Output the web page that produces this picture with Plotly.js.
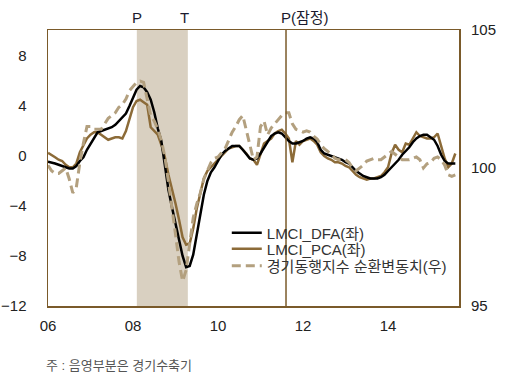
<!DOCTYPE html>
<html>
<head>
<meta charset="utf-8">
<script src="https://cdn.plot.ly/plotly-3.0.1.min.js"></script>
<style>
html,body{margin:0;padding:0;background:#fff;}
#chart{width:516px;height:381px;}
</style>
</head>
<body>
<div id="chart"></div>
<script>
// Monthly series, 2006-01 .. 2015-08
var startYear = 2006;
var lmciDFA = [
 -0.45,-0.5,-0.6,-0.7,-0.8,-0.9,-1.0,-1.0,-0.8,-0.4,
 -0.1,0.5,1.0,1.5,1.9,2.0,2.1,2.2,2.3,2.5,
 2.8,3.1,3.4,4.0,4.7,5.3,5.6,5.5,5.1,4.5,
 3.5,2.2,1.2,-0.8,-2.7,-4.1,-5.5,-6.8,-8.0,-8.9,
 -8.8,-7.9,-6.3,-4.9,-3.1,-2.0,-1.3,-0.9,-0.4,0.1,
 0.4,0.6,0.8,0.8,0.8,0.5,0.1,-0.2,-0.3,-0.2,
 0.2,0.7,1.2,1.6,1.8,1.9,1.8,1.5,1.2,1.0,
 1.0,1.1,1.2,1.4,1.5,1.4,1.1,0.5,0.2,0.1,
 0.0,-0.1,-0.2,-0.3,-0.5,-0.6,-0.9,-1.2,-1.4,-1.6,
 -1.7,-1.8,-1.8,-1.8,-1.7,-1.5,-1.2,-0.9,-0.6,-0.3,
 0.1,0.4,0.7,1.1,1.4,1.6,1.7,1.7,1.5,1.3,
 0.8,0.1,-0.4,-0.6,-0.6,-0.6
];
var lmciPCA = [
 0.25,0.1,-0.1,-0.3,-0.4,-0.7,-0.9,-0.9,-0.6,0.3,
 0.9,1.4,1.7,1.9,1.9,1.7,1.5,1.3,1.4,1.5,
 1.5,1.4,2.0,3.0,3.9,4.4,4.5,4.3,4.1,2.3,
 2.0,1.7,0.9,-0.1,-1.5,-2.6,-3.8,-5.1,-6.5,-7.1,
 -7.0,-5.8,-4.2,-3.0,-1.8,-1.2,-0.9,-0.6,-0.3,0.0,
 0.3,0.6,0.7,0.8,0.8,0.5,0.2,-0.2,-0.3,-0.7,
 0.2,1.0,1.2,1.4,1.8,2.0,2.1,1.8,1.4,-0.5,
 1.2,0.9,1.2,1.3,1.4,1.2,0.9,0.3,0.0,-0.2,
 -0.3,-0.5,-0.5,-0.6,-0.8,-0.9,-1.2,-1.5,-1.7,-1.8,
 -1.9,-1.8,-1.8,-1.7,-1.6,-1.3,-0.9,0.2,0.9,0.5,
 0.3,1.0,0.9,1.4,1.9,1.6,1.5,1.4,1.4,1.5,
 1.8,0.8,-0.2,-0.9,-0.6,0.2
];
var cycleIdx = [
 100.1,99.9,99.8,99.8,99.9,100.0,99.6,99.1,99.3,100.2,
 100.9,101.5,101.5,101.4,101.4,101.4,101.6,101.8,101.9,102.0,
 102.2,102.3,102.5,102.8,102.95,103.1,103.15,103.1,102.5,101.9,
 101.7,101.4,101.0,100.4,99.5,98.6,97.6,96.6,95.9,96.3,
 97.3,98.2,98.7,99.1,99.6,99.9,100.2,100.35,100.4,100.55,
 100.7,101.0,101.3,101.5,101.75,101.9,101.4,100.8,100.3,100.4,
 101.5,101.7,101.2,101.45,101.6,101.75,101.9,102.0,102.0,101.6,
 101.4,101.35,101.3,101.35,101.3,101.15,101.05,100.85,100.7,100.6,
 100.5,100.35,100.3,100.3,100.3,100.2,100.0,99.9,100.0,100.1,
 100.25,100.3,100.35,100.3,100.3,100.4,100.5,100.6,100.5,100.4,
 100.3,100.3,100.3,100.35,100.4,100.3,100.0,100.15,100.2,100.35,
 100.4,100.3,100.1,99.75,99.7,99.75
];
var xTickVals = [2006, 2008, 2010, 2012, 2014];
var xTickText = ['06', '08', '10', '12', '14'];
var yLeftTicks = [-12, -8, -4, 0, 4, 8];
var yRightTicks = [95, 100, 105];
var seriesNames = ['LMCI_DFA(좌)', 'LMCI_PCA(좌)', '경기동행지수 순환변동치(우)'];
var contraction = {start: 2008.09, end: 2009.29};
var peakProvisional = 2011.6;
var phaseLabels = [
  {x: 2008.1, text: 'P'},
  {x: 2009.2, text: 'T'},
  {x: 2012.05, text: 'P(잠정)'}
];

var xs = lmciDFA.map(function(_, i){ return startYear + i/12; });

var brown = '#7a5a2a';
var font = '"Liberation Sans", Arial, "Noto Sans CJK KR", sans-serif';
var legFont = {family: font, size: 15, color: '#333'};

var traces = [
  {x: xs, y: cycleIdx, yaxis: 'y2', name: seriesNames[2], type: 'scatter', mode: 'lines',
   line: {color: '#b3a07f', width: 3, dash: '9px,5px'}, legend: 'legend3'},
  {x: xs, y: lmciPCA, name: seriesNames[1], type: 'scatter', mode: 'lines',
   line: {color: '#8c6b38', width: 2.5}, legend: 'legend2'},
  {x: xs, y: lmciDFA, name: seriesNames[0], type: 'scatter', mode: 'lines',
   line: {color: '#000000', width: 2.5}, legend: 'legend'}
];

var annotations = phaseLabels.map(function(p){
  return {x: p.x, y: 1, xref: 'x', yref: 'paper', yshift: 13, text: p.text, showarrow: false,
          font: {family: font, size: 15, color: '#1a1a2e'}, xanchor: 'center', yanchor: 'middle'};
});
annotations.push({x: -0.01, y: -0.214, xref: 'paper', yref: 'paper', text: '주 : 음영부분은 경기수축기',
  showarrow: false, xanchor: 'left', yanchor: 'middle', font: {family: font, size: 13, color: '#555'}});

function leg(y){
  return {x: 0.435, y: y, xanchor: 'left', yanchor: 'middle', bgcolor: 'rgba(0,0,0,0)', font: legFont};
}

var layout = {
  width: 516, height: 381,
  margin: {l: 48, r: 57, t: 30, b: 75},
  paper_bgcolor: '#fff', plot_bgcolor: '#fff',
  showlegend: true,
  legend: leg(0.2645),
  legend2: leg(0.2065),
  legend3: leg(0.145),
  xaxis: {range: [2006, 2015.67], tickvals: xTickVals, ticktext: xTickText, showgrid: false,
          zeroline: false, showline: true, mirror: true, linecolor: brown, linewidth: 1.5,
          ticks: '', ticklabelstandoff: 5, tickfont: {family: font, size: 15, color: '#222'}},
  yaxis: {range: [-12, 10.08], tickvals: yLeftTicks, showgrid: false, zeroline: false,
          showline: true, mirror: true, linecolor: brown, linewidth: 1.5, ticks: '',
          ticklabelstandoff: 17, tickfont: {family: font, size: 15, color: '#222'}},
  yaxis2: {range: [95, 105], tickvals: yRightTicks, overlaying: 'y', side: 'right', showgrid: false,
           zeroline: false, showline: false, ticks: '', ticklabelstandoff: 11,
           tickfont: {family: font, size: 15, color: '#222'}},
  shapes: [
    {type: 'rect', xref: 'x', yref: 'paper', x0: contraction.start, x1: contraction.end, y0: 0, y1: 1,
     fillcolor: '#d9d0c1', line: {width: 0}, layer: 'below'},
    {type: 'line', xref: 'x', yref: 'paper', x0: peakProvisional, x1: peakProvisional, y0: 0, y1: 1,
     line: {color: brown, width: 1.5}}
  ],
  annotations: annotations
};

Plotly.newPlot('chart', traces, layout, {displayModeBar: false, staticPlot: true});
</script>
</body>
</html>
